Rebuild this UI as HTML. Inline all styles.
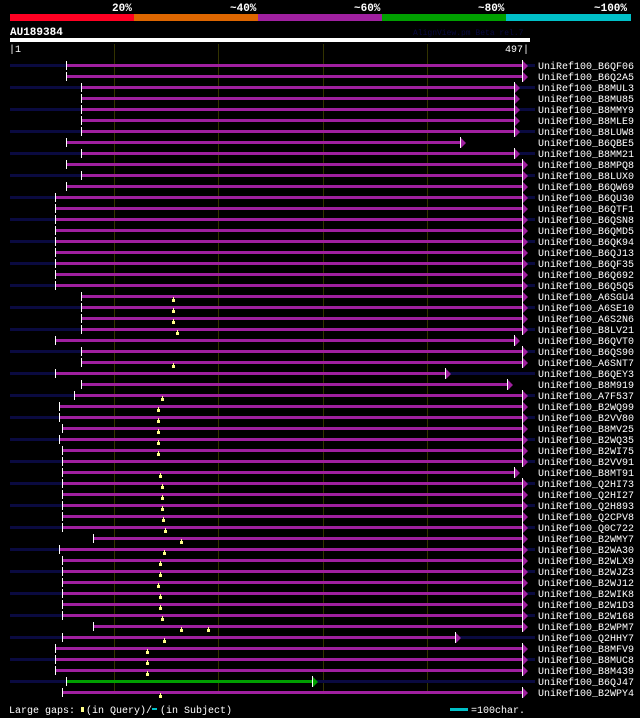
<!DOCTYPE html>
<html><head><meta charset="utf-8"><style>
body{margin:0;background:#000;width:640px;height:718px;overflow:hidden}
svg{display:block}
text{font-family:"Liberation Mono","DejaVu Sans Mono",monospace;fill:#fff}
</style></head><body>
<svg id="s" width="640" height="718" xmlns="http://www.w3.org/2000/svg">
<rect width="640" height="718" fill="#000"/>
<text x="112" y="11" font-size="11" font-weight="bold">20%</text>
<text x="230" y="11" font-size="11" font-weight="bold">~40%</text>
<text x="354" y="11" font-size="11" font-weight="bold">~60%</text>
<text x="478" y="11" font-size="11" font-weight="bold">~80%</text>
<text x="594" y="11" font-size="11" font-weight="bold">~100%</text>
<rect x="10" y="14" width="124" height="7" fill="#ff0022"/>
<rect x="134" y="14" width="124" height="7" fill="#dd6600"/>
<rect x="258" y="14" width="124" height="7" fill="#a020a0"/>
<rect x="382" y="14" width="124" height="7" fill="#00a000"/>
<rect x="506" y="14" width="125" height="7" fill="#00c0c8"/>
<text x="10" y="35" font-size="11" font-weight="bold">AU189384</text>
<text x="413" y="35" font-size="8" style="fill:#0a0a40">AlignView.pm Beta rel.7</text>
<rect x="10" y="38" width="520" height="4" fill="#fff"/>
<text x="9" y="52" font-size="10">|1</text>
<text x="505" y="52" font-size="10">497|</text>
<g id="g"></g>
<text x="9" y="713" font-size="10">Large gaps:</text>
<rect x="81" y="707" width="3" height="5" fill="#ffff88"/>
<text x="86" y="713" font-size="10">(in Query)/</text>
<rect x="152" y="708" width="5" height="2" fill="#00c0c8"/>
<text x="160" y="713" font-size="10">(in Subject)</text>
<rect x="450" y="708" width="18" height="3" fill="#00c0c8"/>
<text x="471" y="713" font-size="10">=100char.</text>
</svg>
<script>
var rows=[
["B6QF06",66,528],["B6Q2A5",66,528],["B8MUL3",81,520],["B8MU85",81,520],["B8MMY9",81,520],["B8MLE9",81,520],["B8LUW8",81,520],["B6QBE5",66,466],["B8MM21",81,520],["B8MPQ8",66,528],["B8LUX0",81,528],["B6QW69",66,528],["B6QU30",55,528],["B6QTF1",55,528],["B6QSN8",55,528],["B6QMD5",55,528],["B6QK94",55,528],["B6QJ13",55,528],["B6QF35",55,528],["B6Q692",55,528],["B6Q5Q5",55,528],
["A6SGU4",81,528,[173]],["A6SE10",81,528,[173]],["A6S2N6",81,528,[173]],["B8LV21",81,528,[177]],["B6QVT0",55,520],["B6QS90",81,528],["A6SNT7",81,528,[173]],["B6QEY3",55,451],["B8M919",81,513],["A7F537",74,528,[162]],
["B2WQ99",59,528,[158]],["B2VV80",59,528,[158]],["B8MV25",62,528,[158]],["B2WQ35",59,528,[158]],["B2WI75",62,528,[158]],["B2VV91",62,528],["B8MT91",62,520,[160]],["Q2HI73",62,528,[162]],["Q2HI27",62,528,[162]],["Q2H893",62,528,[162]],["Q2CPV8",62,528,[163]],["Q0C722",62,528,[165]],["B2WMY7",93,528,[181]],["B2WA30",59,528,[164]],["B2WLX9",62,528,[160]],["B2WJZ3",62,528,[160]],["B2WJ12",62,528,[158]],["B2WIK8",62,528,[160]],["B2W1D3",62,528,[160]],["B2W168",62,528,[162]],["B2WPM7",93,528,[181,208]],["Q2HHY7",62,461,[164]],["B8MFV9",55,528,[147]],["B8MUC8",55,528,[147]],["B8M439",55,528,[147]],["B6QJ47",66,318],["B2WPY4",62,528,[160]]];
var h='';
[114,218,323,427].forEach(function(x){h+='<rect x="'+x+'" y="44" width="1" height="648" fill="#333300"/>';});
rows.forEach(function(r,i){
 var y=65+i*11, col=r[0]=="B6QJ47"?"#00a000":"#a020a0";
 if(i%2==0) h+='<rect x="10" y="'+(y-1)+'" width="525" height="3" fill="#0a0a40"/>';
 h+='<rect x="'+r[1]+'" y="'+(y-1)+'" width="'+(r[2]-r[1]-5)+'" height="3" fill="'+col+'"/>';
 h+='<rect x="'+r[1]+'" y="'+(y-4)+'" width="1" height="9" fill="#fff"/>';
 var b=r[2]-6;
 h+='<rect x="'+b+'" y="'+(y-5)+'" width="1" height="11" fill="#fff"/>';
 h+='<polygon points="'+(b+1)+','+(y-4)+' '+(r[2])+','+(y+1)+' '+(b+1)+','+(y+6)+'" fill="'+col+'"/>';
 (r[3]||[]).forEach(function(t){h+='<rect x="'+(t-1)+'" y="'+(y+3)+'" width="3" height="3" fill="#ffff88"/><rect x="'+t+'" y="'+(y+1)+'" width="1" height="2" fill="#ffff88"/>';});
 h+='<text x="538" y="'+(y+4)+'" font-size="10">UniRef100_'+r[0]+'</text>';
});
document.getElementById('g').innerHTML=h;
</script>
</body></html>
